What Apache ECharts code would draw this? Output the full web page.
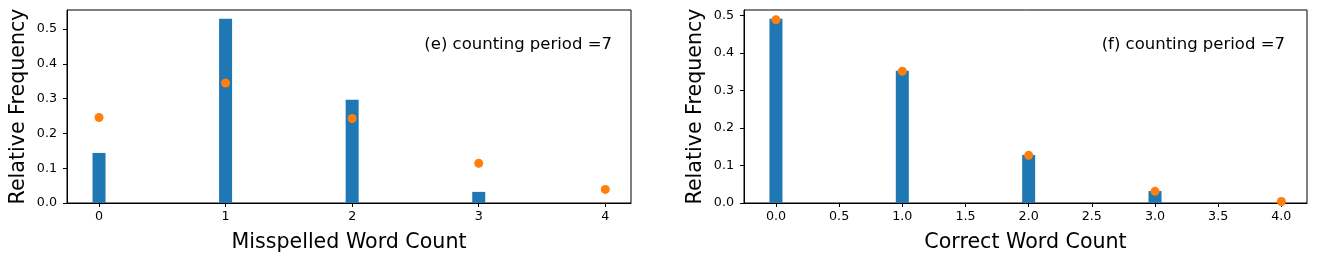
<!DOCTYPE html>
<html>
<head>
<meta charset="utf-8">
<script src="https://cdn.jsdelivr.net/npm/echarts@6/dist/echarts.min.js"></script>
<style>
html,body{margin:0;padding:0;background:#fff;}
#c{width:1317px;height:262px;}
</style>
</head>
<body>
<div id="c"></div>
<script>
// Left panel (e): misspelled word count
const leftCounts = [0, 1, 2, 3];
const leftBars = [0.144, 0.530, 0.297, 0.032];
const leftDotX = [0, 1, 2, 3, 4];
const leftDots = [0.246, 0.345, 0.243, 0.114, 0.039];
const leftXTicks = [0, 1, 2, 3, 4];
const leftYTicks = [0, 0.1, 0.2, 0.3, 0.4, 0.5];

// Right panel (f): correct word count
const rightCounts = [0, 1, 2, 3];
const rightBars = [0.491, 0.352, 0.128, 0.032];
const rightDotX = [0, 1, 2, 3, 4];
const rightDots = [0.488, 0.351, 0.127, 0.031, 0.004];
const rightXTicks = [0, 0.5, 1, 1.5, 2, 2.5, 3, 3.5, 4];
const rightYTicks = [0, 0.1, 0.2, 0.3, 0.4, 0.5];

const leftTitle = "(e) counting period =7";
const rightTitle = "(f) counting period =7";
const leftXName = "Misspelled Word Count";
const rightXName = "Correct Word Count";
const yName = "Relative Frequency";

const FONT = "DejaVu Sans";
const BLUE = "#1f77b4";
const ORANGE = "#ff7f0e";

function xAxis(gi, ticks, name, dec) {
  return {
    type: 'value', gridIndex: gi, min: -0.253, max: 4.203,
    name: name, nameLocation: 'middle', nameGap: 29,
    nameTextStyle: {fontFamily: FONT, fontSize: 20.6, color: '#000'},
    axisLine: {show: true, onZero: false, lineStyle: {color: '#000', width: 1}},
    axisTick: {show: true, length: 4, lineStyle: {color: '#000'}, customValues: ticks},
    axisLabel: {show: true, fontFamily: FONT, fontSize: 12.7, color: '#000', margin: 7,
      customValues: ticks, formatter: v => Number(v).toFixed(dec)},
    splitLine: {show: false}
  };
}
function yAxis(gi, ticks, max) {
  return {
    type: 'value', gridIndex: gi, min: 0, max: max,
    name: yName, nameLocation: 'middle', nameGap: 38,
    nameTextStyle: {fontFamily: FONT, fontSize: 20.6, color: '#000'},
    axisLine: {show: true, onZero: false, lineStyle: {color: '#000', width: 1}},
    axisTick: {show: true, length: 4, lineStyle: {color: '#000'}, customValues: ticks},
    axisLabel: {show: true, fontFamily: FONT, fontSize: 12.7, color: '#000', margin: 10,
      customValues: ticks, formatter: v => Number(v).toFixed(1)},
    splitLine: {show: false}
  };
}

const chart = echarts.init(document.getElementById('c'), null, {renderer: 'canvas'});
chart.setOption({
  animation: false,
  backgroundColor: '#fff',
  grid: [
    {left: 67, top: 10, right: 686, bottom: 59, show: true, borderColor: '#000', borderWidth: 1, backgroundColor: 'transparent'},
    {left: 744, top: 10, right: 10, bottom: 59, show: true, borderColor: '#000', borderWidth: 1, backgroundColor: 'transparent'}
  ],
  xAxis: [xAxis(0, leftXTicks, leftXName, 0), xAxis(1, rightXTicks, rightXName, 1)],
  yAxis: [yAxis(0, leftYTicks, 0.555), yAxis(1, rightYTicks, 0.514)],
  series: [
    {type: 'bar', xAxisIndex: 0, yAxisIndex: 0, barWidth: 13, itemStyle: {color: BLUE},
      data: leftCounts.map((c, i) => [c, leftBars[i]])},
    {type: 'scatter', xAxisIndex: 0, yAxisIndex: 0, symbolSize: 9, itemStyle: {color: ORANGE, opacity: 1}, z: 5,
      data: leftDotX.map((c, i) => [c, leftDots[i]])},
    {type: 'bar', xAxisIndex: 1, yAxisIndex: 1, barWidth: 13, itemStyle: {color: BLUE},
      data: rightCounts.map((c, i) => [c, rightBars[i]])},
    {type: 'scatter', xAxisIndex: 1, yAxisIndex: 1, symbolSize: 9, itemStyle: {color: ORANGE, opacity: 1}, z: 5,
      data: rightDotX.map((c, i) => [c, rightDots[i]])}
  ],
  graphic: [
    {type: 'text', x: 612, y: 45, style: {text: leftTitle, fontFamily: FONT, fontSize: 16.5, fill: '#000', align: 'right', verticalAlign: 'middle'}},
    {type: 'text', x: 1285, y: 45, style: {text: rightTitle, fontFamily: FONT, fontSize: 16.5, fill: '#000', align: 'right', verticalAlign: 'middle'}}
  ]
});
</script>
</body>
</html>
